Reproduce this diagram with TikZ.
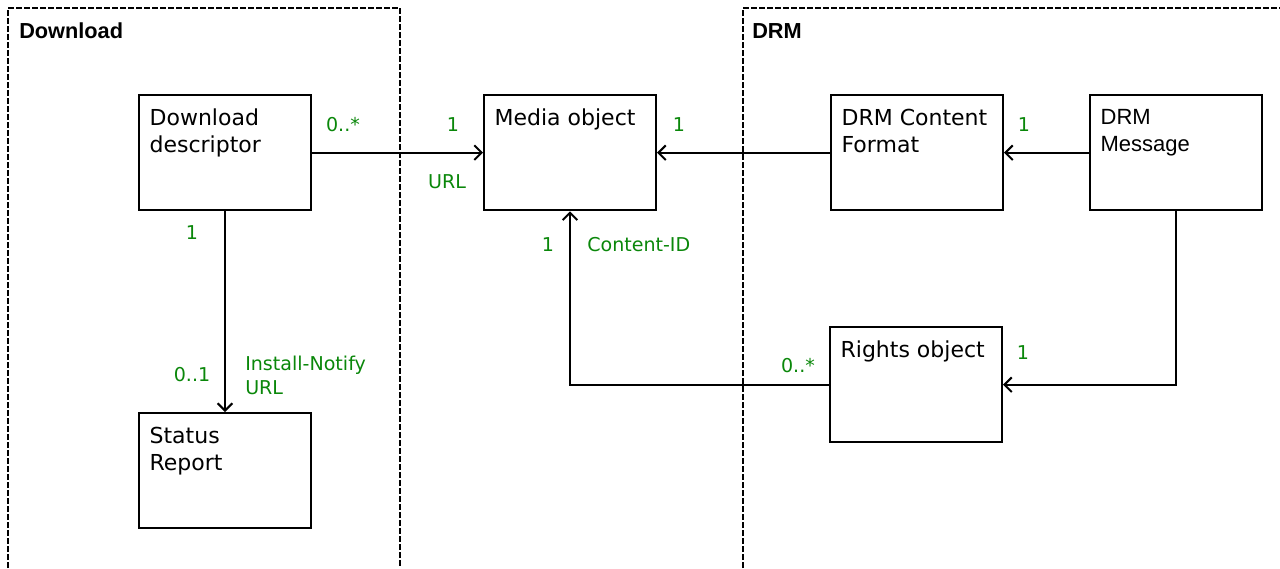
\documentclass[tikz,border=0pt]{standalone}
\usepackage{fontspec}
\usepackage{tikz}
\usetikzlibrary{arrows.meta,positioning}
\newfontfamily\dejavu{DejaVu Sans}
\newfontfamily\arialf{Liberation Sans}
\definecolor{multgreen}{RGB}{10,135,10}

\tikzset{
  frame/.style={line width=1.3pt, dash pattern=on 4.5pt off 1.5pt},
  entity/.style={draw, line width=1.5pt, anchor=north west, minimum width=129pt, minimum height=86.5pt, inner sep=0pt},
  etext/.style={anchor=north west, align=left, inner sep=0pt, xshift=8.5pt, yshift=-11.25pt,
                font=\dejavu\fontsize{16.5}{20.25}\selectfont},
  title/.style={anchor=base west, inner sep=0pt, font=\arialf\bfseries\fontsize{16.3}{18}\selectfont},
  mult/.style={inner sep=0pt, text=multgreen, font=\dejavu\fontsize{14.3}{18}\selectfont},
  conn/.style={line width=1.5pt}
}

\begin{document}
\begin{tikzpicture}[x=0.75pt, y=-0.75pt, >={Straight Barb[length=5.5pt,width=11pt]}]
    \useasboundingbox (0,0) rectangle (1280,568);

    % package frames
    \draw[frame] (8,568) -- (8,8) -- (400,8) -- (400,568);
    \draw[frame] (743,568) -- (743,8) -- (1280,8);
    \node[title] (tdl) at (19,38) {Download};
    \node[title] (tdrm) at (752,38) {DRM};

    % classes
    \node[entity, label={[etext]north west:Download\\descriptor}] (dd) at (138,94) {};
    \node[entity, label={[etext]north west:Media object}] (mo) at (483,94) {};
    \node[entity, label={[etext]north west:DRM Content\\Format}] (cf) at (830,94) {};
    \node[entity, label={[etext, font=\arialf\fontsize{16.5}{20.25}\selectfont]north west:DRM\\Message}] (msg) at (1089,94) {};
    \node[entity, label={[etext]north west:Status\\Report}] (sr) at (138,412) {};
    \node[entity, label={[etext]north west:Rights object}] (ro) at (829,326) {};

    % associations
    \draw[conn,->] (dd.east) -- (mo.west);
    \draw[conn,->] (cf.west) -- (mo.east);
    \draw[conn,->] (msg.west) -- (cf.east);
    \draw[conn,->] (dd.south) -- (sr.north);
    \draw[conn,->] (ro.west) -| (mo.south);
    \draw[conn,->] (msg.south) |- (ro.east);

    % multiplicities and roles
    \node[mult] (m1) at (343,125) {0..*};
    \node[mult] (m2) at (453,125) {1};
    \node[mult] (url) at (447,182) {URL};
    \node[mult] (m3) at (679,125) {1};
    \node[mult] (m4) at (1024,125) {1};
    \node[mult] (m5) at (192,233) {1};
    \node[mult] (m6) at (192,375) {0..1};
    \node[mult, anchor=west, align=left] (inu) at (245,375) {Install-Notify\\URL};
    \node[mult] (m7) at (548,245) {1};
    \node[mult, anchor=west] (cid) at (587,245) {Content-ID};
    \node[mult] (m8) at (798,366) {0..*};
    \node[mult] (m9) at (1023,353) {1};
\end{tikzpicture}
\end{document}
